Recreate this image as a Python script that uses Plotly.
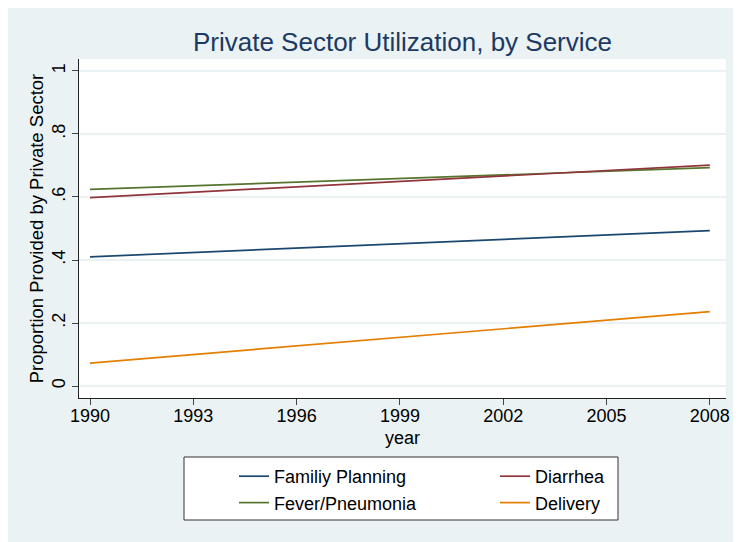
import plotly.graph_objects as go

years = [1990, 2008]
family_planning = [0.41, 0.493]
diarrhea = [0.598, 0.701]
fever_pneumonia = [0.624, 0.693]
delivery = [0.073, 0.236]

x_ticks = [1990, 1993, 1996, 1999, 2002, 2005, 2008]
y_ticks = [0, 0.2, 0.4, 0.6, 0.8, 1]
y_labels = ["0", ".2", ".4", ".6", ".8", "1"]

W, H = 741, 542
# figure-coordinate layout (page is offset by 8px body margin)
L, R, T, B = 71, 23, 51, 152
pw, ph = W - L - R, H - T - B

def px_x(p):
    return (p - L) / pw

def px_y(p):
    return (H - B - p) / ph

FONT = "Liberation Sans, Arial, Helvetica, sans-serif"
BG = "#EAF2F3"

fig = go.Figure()
fig.add_trace(go.Scatter(x=years, y=family_planning, mode="lines", name="Familiy Planning",
                         line=dict(color="#1a476f", width=1.7), legend="legend"))
fig.add_trace(go.Scatter(x=years, y=fever_pneumonia, mode="lines", name="Fever/Pneumonia",
                         line=dict(color="#55752f", width=1.7), legend="legend"))
fig.add_trace(go.Scatter(x=years, y=diarrhea, mode="lines", name="Diarrhea",
                         line=dict(color="#90353b", width=1.7), legend="legend2"))
fig.add_trace(go.Scatter(x=years, y=delivery, mode="lines", name="Delivery",
                         line=dict(color="#e37e00", width=1.7), legend="legend2"))

shapes = [
    dict(type="rect", xref="paper", yref="paper", layer="below",
         x0=px_x(176), x1=px_x(610), y0=px_y(512), y1=px_y(449),
         fillcolor="white", line=dict(color="#333333", width=1)),
]

leg_common = dict(orientation="v", bgcolor="rgba(0,0,0,0)", borderwidth=0,
                  font=dict(family=FONT, size=18, color="black"),
                  xanchor="left", yanchor="top", tracegroupgap=0)

fig.update_layout(
    width=W, height=H,
    margin=dict(l=L, r=R, t=T, b=B, autoexpand=False),
    paper_bgcolor=BG,
    plot_bgcolor="white",
    shapes=shapes,
    title=dict(text="Private Sector Utilization, by Service",
               font=dict(family=FONT, size=26, color="#1c3a63"),
               x=0.5, xref="paper", xanchor="center",
               y=1 - 34 / H, yref="container", yanchor="middle"),
    legend=dict(x=px_x(226), y=px_y(450), **leg_common),
    legend2=dict(x=px_x(487), y=px_y(450), **leg_common),
    xaxis=dict(range=[1989.68, 2008.47], tickvals=x_ticks,
               showgrid=False, zeroline=False, automargin=False,
               showline=True, linecolor="#222222", linewidth=1,
               ticks="outside", ticklen=6, tickcolor="#444444",
               ticklabelstandoff=-5,
               tickfont=dict(family=FONT, size=18, color="black"),
               title=dict(text="year", font=dict(family=FONT, size=18, color="black"),
                          standoff=6)),
    yaxis=dict(range=[-0.038, 1.038], tickvals=y_ticks, ticktext=y_labels,
               tickangle=-90, automargin=False,
               showgrid=True, gridcolor=BG, gridwidth=1.5, zeroline=False,
               showline=True, linecolor="#222222", linewidth=1,
               ticks="outside", ticklen=6, tickcolor="#444444",
               tickfont=dict(family=FONT, size=18, color="black"),
               title=dict(text="Proportion Provided by Private Sector",
                          font=dict(family=FONT, size=18.5, color="black"),
                          standoff=0)),
)

fig.write_html("out.html")
